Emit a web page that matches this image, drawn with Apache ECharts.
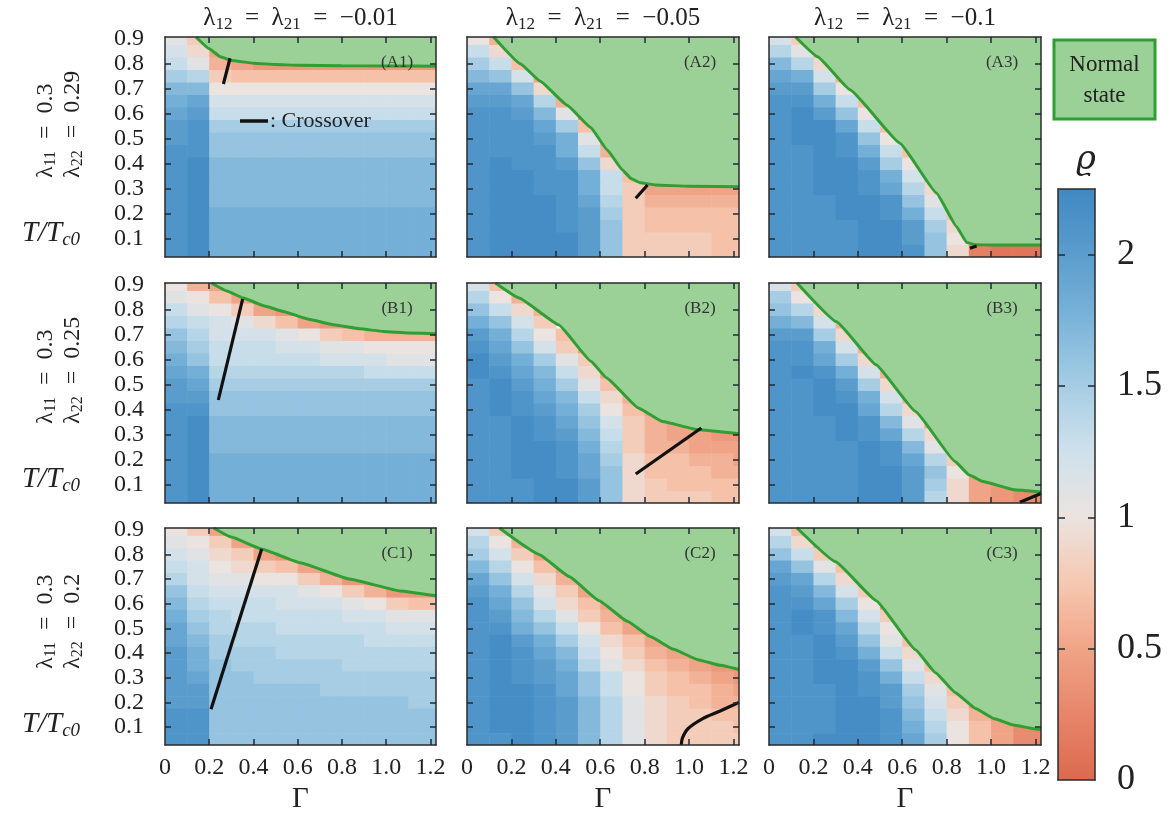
<!DOCTYPE html>
<html>
<head>
<meta charset="utf-8">
<script src="https://cdn.jsdelivr.net/npm/echarts@6.0.0/dist/echarts.min.js"></script>
<style>
html,body{margin:0;padding:0;background:#ffffff;}
#chart{width:1171px;height:815px;}
</style>
</head>
<body>
<div id="chart"></div>
<script>
const _ = null;
// heat-map cell centres (Gamma columns, T/Tc0 rows from top to bottom)
const gammaCenters = [0.05,0.15,0.25,0.35,0.45,0.55,0.65,0.75,0.85,0.95,1.05,1.15,1.25];
const tCenters = [0.90,0.85,0.80,0.75,0.70,0.65,0.60,0.55,0.50,0.45,0.40,0.35,0.30,0.25,0.20,0.15,0.10,0.05];
const xTickLabels = [0,0.2,0.4,0.6,0.8,1.0,1.2];
const xTicks = [0.2,0.4,0.6,0.8,1.0,1.2];
const yTickLabels = [0.1,0.2,0.3,0.4,0.5,0.6,0.7,0.8,0.9];
const yTicks = [0.1,0.2,0.3,0.4,0.5,0.6,0.7,0.8];
const cbarTickLabels = [0,0.5,1,1.5,2];
const cbarTicks = [0.5,1,1.5,2];
const colTitles = ['\u22120.01','\u22120.05','\u22120.1'];
const rowLambda11 = ['0.3','0.3','0.3'];
const rowLambda22 = ['0.29','0.25','0.2'];
const panelNames = ['A1','A2','A3','B1','B2','B3','C1','C2','C3'];

// rho values x10 (null = normal state)
const heatA1 = [
[11,8,_,_,_,_,_,_,_,_,_,_,_],
[12,9,5,_,_,_,_,_,_,_,_,_,_],
[13,11,6,5,4,4,4,4,4,4,4,4,4],
[15,14,8,7,7,7,7,7,7,7,7,7,7],
[17,17,10,10,10,10,10,10,10,10,10,10,10],
[18,19,12,12,12,12,12,12,12,12,12,12,12],
[19,20,13,13,13,13,13,13,13,13,13,13,13],
[20,21,15,15,15,15,15,15,15,15,15,15,15],
[20,21,16,16,16,16,16,16,16,16,16,16,16],
[21,21,16,16,16,16,16,16,16,16,16,16,16],
[21,22,17,17,17,17,17,17,17,17,17,17,17],
[21,22,17,17,17,17,17,17,17,17,17,17,17],
[21,22,17,17,17,17,17,17,17,17,17,17,17],
[21,22,17,17,17,17,17,17,17,17,17,17,17],
[21,22,18,18,18,18,18,18,18,18,18,18,18],
[21,22,18,18,18,18,18,18,18,18,18,18,18],
[21,22,18,18,18,18,18,18,18,18,18,18,18],
[21,22,18,18,18,18,18,18,18,18,18,18,18]];
const heatA2 = [
[10,6,_,_,_,_,_,_,_,_,_,_,_],
[13,9,5,_,_,_,_,_,_,_,_,_,_],
[15,13,7,_,_,_,_,_,_,_,_,_,_],
[17,16,12,5,_,_,_,_,_,_,_,_,_],
[19,19,16,9,_,_,_,_,_,_,_,_,_],
[20,20,19,14,6,_,_,_,_,_,_,_,_],
[21,21,20,17,11,4,_,_,_,_,_,_,_],
[21,21,21,19,15,7,_,_,_,_,_,_,_],
[21,21,21,20,18,11,4,_,_,_,_,_,_],
[21,21,21,21,18,13,6,_,_,_,_,_,_],
[21,22,21,21,20,16,9,_,_,_,_,_,_],
[21,22,22,21,21,18,13,7,_,_,_,_,_],
[21,22,22,21,21,18,13,8,5,5,5,5,5],
[21,22,22,22,21,19,14,8,6,6,6,6,6],
[21,22,22,22,21,20,15,8,7,7,7,7,7],
[21,22,22,22,21,20,16,8,7,7,7,7,7],
[21,22,22,22,22,20,16,8,8,8,8,7,7],
[21,22,22,22,22,20,16,8,8,8,8,7,7]];
const heatA3 = [
[12,8,_,_,_,_,_,_,_,_,_,_,_],
[14,11,5,_,_,_,_,_,_,_,_,_,_],
[17,14,9,_,_,_,_,_,_,_,_,_,_],
[19,18,12,6,_,_,_,_,_,_,_,_,_],
[20,20,15,10,_,_,_,_,_,_,_,_,_],
[21,21,18,13,7,_,_,_,_,_,_,_,_],
[21,22,20,16,10,_,_,_,_,_,_,_,_],
[21,22,22,19,13,7,_,_,_,_,_,_,_],
[21,22,22,21,16,10,_,_,_,_,_,_,_],
[21,21,22,21,18,13,7,_,_,_,_,_,_],
[21,21,22,22,20,15,10,_,_,_,_,_,_],
[21,21,22,22,21,18,12,6,_,_,_,_,_],
[21,21,22,22,21,19,14,9,_,_,_,_,_],
[21,21,21,22,22,21,16,11,_,_,_,_,_],
[21,21,21,22,22,21,18,13,7,_,_,_,_],
[21,21,21,21,22,22,20,15,9,_,_,_,_],
[21,21,21,21,22,22,20,16,10,5,_,_,_],
[21,21,21,21,22,22,21,16,9,2,1,1,1]];
const heatB1 = [
[10,6,5,_,_,_,_,_,_,_,_,_,_],
[11,10,7,5,4,_,_,_,_,_,_,_,_],
[13,11,10,8,5,4,_,_,_,_,_,_,_],
[14,13,12,11,9,7,5,4,4,_,_,_,_],
[16,14,12,12,12,11,10,8,7,6,6,6,6],
[17,15,13,13,13,12,12,11,11,10,10,10,10],
[18,16,13,13,13,13,13,12,12,12,11,11,11],
[19,18,14,14,14,14,14,14,14,13,13,13,13],
[20,19,15,15,15,15,15,15,15,15,15,15,15],
[20,20,16,16,16,16,16,16,16,16,16,16,16],
[21,21,16,16,16,16,16,16,16,16,16,16,16],
[21,22,17,17,17,17,17,17,17,17,17,17,17],
[21,22,17,17,17,17,17,17,17,17,17,17,17],
[21,22,17,17,17,17,17,17,17,17,17,17,17],
[21,22,18,18,18,18,18,18,18,18,18,18,18],
[21,22,18,18,18,18,18,18,18,18,18,18,18],
[21,22,18,18,18,18,18,18,18,18,18,18,18],
[21,22,18,18,18,18,18,18,18,18,18,18,18]];
const heatB2 = [
[12,7,_,_,_,_,_,_,_,_,_,_,_],
[14,10,6,_,_,_,_,_,_,_,_,_,_],
[16,13,9,6,_,_,_,_,_,_,_,_,_],
[18,16,12,8,_,_,_,_,_,_,_,_,_],
[20,18,14,10,7,_,_,_,_,_,_,_,_],
[21,19,16,12,8,5,_,_,_,_,_,_,_],
[22,20,18,15,11,8,_,_,_,_,_,_,_],
[22,21,19,17,13,9,5,_,_,_,_,_,_],
[21,22,20,18,15,11,7,_,_,_,_,_,_],
[21,22,21,19,17,13,9,6,_,_,_,_,_],
[21,22,21,20,18,15,10,7,5,_,_,_,_],
[21,21,22,21,19,16,12,8,6,5,_,_,_],
[21,21,22,21,20,17,13,8,6,5,5,4,4],
[21,21,22,22,21,18,14,8,6,6,5,5,5],
[21,21,22,22,21,19,15,9,7,7,6,6,5],
[21,21,22,22,21,19,16,9,7,7,7,6,6],
[21,21,21,22,22,20,16,9,8,7,7,7,7],
[21,21,21,22,22,20,16,9,8,8,8,7,7]];
const heatB3 = [
[12,8,_,_,_,_,_,_,_,_,_,_,_],
[15,10,5,_,_,_,_,_,_,_,_,_,_],
[16,14,9,_,_,_,_,_,_,_,_,_,_],
[18,17,12,6,_,_,_,_,_,_,_,_,_],
[20,20,15,9,_,_,_,_,_,_,_,_,_],
[21,21,18,12,6,_,_,_,_,_,_,_,_],
[21,21,19,15,9,_,_,_,_,_,_,_,_],
[21,22,21,18,12,6,_,_,_,_,_,_,_],
[21,21,22,20,15,9,_,_,_,_,_,_,_],
[21,21,22,21,18,12,6,_,_,_,_,_,_],
[21,21,22,22,19,14,9,_,_,_,_,_,_],
[21,21,21,22,21,17,11,5,_,_,_,_,_],
[21,21,21,22,21,19,14,9,_,_,_,_,_],
[21,21,21,21,22,21,17,11,5,_,_,_,_],
[21,21,21,21,22,21,19,14,8,_,_,_,_],
[21,21,21,21,22,22,20,16,10,5,_,_,_],
[21,21,21,21,22,22,20,15,9,5,4,_,_],
[21,21,21,21,22,22,20,14,9,5,4,3,3]];
const heatC1 = [
[10,8,5,_,_,_,_,_,_,_,_,_,_],
[11,10,8,5,4,_,_,_,_,_,_,_,_],
[12,11,9,8,5,4,_,_,_,_,_,_,_],
[13,12,10,9,8,7,5,4,_,_,_,_,_],
[14,12,11,11,10,10,8,6,4,4,_,_,_],
[16,13,12,12,12,12,11,10,8,6,4,4,4],
[17,14,13,13,13,12,12,12,11,10,8,7,7],
[18,15,14,13,13,13,13,13,12,12,11,11,11],
[19,16,14,14,14,13,13,13,13,13,12,12,12],
[19,17,15,14,14,14,14,14,14,13,13,13,13],
[20,18,15,15,15,14,14,14,14,14,14,14,14],
[20,18,16,15,15,15,15,15,14,14,14,14,14],
[20,19,16,16,15,15,15,15,15,15,15,15,15],
[20,20,16,16,16,16,16,15,15,15,15,15,15],
[20,20,16,16,16,16,16,16,16,16,16,15,15],
[21,21,16,16,16,16,16,16,16,16,16,16,16],
[21,21,16,16,16,16,16,16,16,16,16,16,16],
[21,21,16,16,16,16,16,16,16,16,16,16,16]];
const heatC2 = [
[12,8,_,_,_,_,_,_,_,_,_,_,_],
[14,10,6,_,_,_,_,_,_,_,_,_,_],
[15,12,8,5,_,_,_,_,_,_,_,_,_],
[17,14,10,7,5,_,_,_,_,_,_,_,_],
[19,16,12,9,6,4,_,_,_,_,_,_,_],
[20,18,14,11,8,5,_,_,_,_,_,_,_],
[21,19,16,12,9,7,5,_,_,_,_,_,_],
[21,20,17,14,11,8,6,4,_,_,_,_,_],
[21,21,18,16,13,10,7,5,4,_,_,_,_],
[21,22,20,18,15,12,9,7,5,4,_,_,_],
[21,22,21,19,17,13,10,8,6,5,4,_,_],
[21,22,21,20,18,14,11,9,7,6,5,4,4],
[21,22,21,20,19,16,13,10,8,7,6,5,4],
[21,22,22,21,19,16,13,10,8,7,7,6,5],
[21,22,22,21,20,17,14,11,9,8,7,6,6],
[21,22,22,21,20,17,14,11,9,8,8,7,7],
[21,22,22,21,20,17,14,11,9,8,8,8,7],
[21,21,22,21,20,17,14,11,9,8,8,8,8]];
const heatC3 = [
[12,7,_,_,_,_,_,_,_,_,_,_,_],
[14,9,5,_,_,_,_,_,_,_,_,_,_],
[16,13,8,_,_,_,_,_,_,_,_,_,_],
[19,16,11,7,_,_,_,_,_,_,_,_,_],
[20,19,14,9,_,_,_,_,_,_,_,_,_],
[21,20,17,12,8,_,_,_,_,_,_,_,_],
[21,21,19,15,10,5,_,_,_,_,_,_,_],
[21,22,21,17,12,8,_,_,_,_,_,_,_],
[21,22,21,19,14,10,_,_,_,_,_,_,_],
[21,21,22,20,16,11,7,_,_,_,_,_,_],
[21,21,22,21,18,13,9,_,_,_,_,_,_],
[21,21,22,22,20,16,11,7,_,_,_,_,_],
[21,21,22,22,21,18,13,9,_,_,_,_,_],
[21,21,21,22,21,20,15,11,7,_,_,_,_],
[21,21,21,22,22,20,16,12,8,4,_,_,_],
[21,21,21,22,22,21,17,13,9,6,4,_,_],
[21,21,21,22,22,21,18,14,10,7,5,3,3],
[21,21,22,22,22,21,19,15,10,7,5,3,3]];

// normal-state boundary (Gamma, T/Tc0)
const bndA1G = [0.14,0.2,0.25,0.3,0.4,0.5,0.6,0.8,1.0,1.225];
const bndA1T = [0.907,0.86,0.828,0.813,0.802,0.797,0.794,0.792,0.791,0.79];
const bndA2G = [0.12,0.24,0.33,0.45,0.557,0.632,0.70,0.74,0.78,0.85,1.0,1.225];
const bndA2T = [0.907,0.80,0.73,0.635,0.545,0.455,0.375,0.34,0.324,0.315,0.31,0.308];
const bndA3G = [0.12,0.219,0.365,0.59,0.755,0.845,0.89,0.93,1.0,1.225];
const bndA3T = [0.907,0.828,0.696,0.482,0.282,0.148,0.085,0.076,0.075,0.075];
const bndB1G = [0.21,0.28,0.354,0.45,0.535,0.65,0.762,0.88,0.988,1.1,1.225];
const bndB1T = [0.907,0.875,0.847,0.815,0.793,0.762,0.74,0.724,0.713,0.707,0.704];
const bndB2G = [0.128,0.235,0.414,0.558,0.629,0.772,0.88,1.04,1.225];
const bndB2T = [0.907,0.847,0.739,0.594,0.527,0.407,0.353,0.32,0.304];
const bndB3G = [0.126,0.304,0.482,0.66,0.838,0.9,0.963,1.105,1.225];
const bndB3T = [0.907,0.752,0.58,0.393,0.193,0.14,0.113,0.08,0.071];
const bndC1G = [0.22,0.3,0.437,0.611,0.837,1.063,1.225];
const bndC1T = [0.907,0.87,0.822,0.766,0.699,0.652,0.632];
const bndC2G = [0.146,0.325,0.46,0.594,0.72,0.826,0.93,1.04,1.14,1.225];
const bndC2T = [0.907,0.8,0.71,0.613,0.53,0.467,0.415,0.373,0.35,0.333];
const bndC3G = [0.126,0.3,0.482,0.66,0.75,0.838,0.93,1.016,1.1,1.194,1.225];
const bndC3T = [0.907,0.77,0.613,0.413,0.32,0.24,0.175,0.133,0.108,0.093,0.09];

// crossover lines
const crsA1G = [0.264,0.294], crsA1T = [0.719,0.822];
const crsA2G = [0.76,0.813], crsA2T = [0.262,0.315];
const crsA3G = [0.905,0.935], crsA3T = [0.062,0.071];
const crsB1G = [0.241,0.351], crsB1T = [0.439,0.843];
const crsB2G = [0.76,1.055], crsB2T = [0.143,0.327];
const crsB3G = [1.13,1.225], crsB3T = [0.03,0.065];
const crsC1G = [0.208,0.437], crsC1T = [0.172,0.822];
const crsC2G = [0.965,0.97,0.995,1.06,1.14,1.225], crsC2T = [0.027,0.055,0.093,0.133,0.165,0.2];
const crsC3G = [], crsC3T = [];

const heats = [heatA1,heatA2,heatA3,heatB1,heatB2,heatB3,heatC1,heatC2,heatC3];
const bndG = [bndA1G,bndA2G,bndA3G,bndB1G,bndB2G,bndB3G,bndC1G,bndC2G,bndC3G];
const bndT = [bndA1T,bndA2T,bndA3T,bndB1T,bndB2T,bndB3T,bndC1T,bndC2T,bndC3T];
const crsG = [crsA1G,crsA2G,crsA3G,crsB1G,crsB2G,crsB3G,crsC1G,crsC2G,crsC3G];
const crsT = [crsA1T,crsA2T,crsA3T,crsB1T,crsB2T,crsB3T,crsC1T,crsC2T,crsC3T];

// ---- layout / style ----
const SERIF = 'Liberation Serif';
const lefts = [165, 467, 769], widths = [271, 272, 272];
const tops = [37, 283, 528], H = 220;
const XMAX = 1.225, YMIN = 0.027, YMAX = 0.907;
const HALF_G = 0.05, HALF_T = 0.025;
const cmap = ['#dc6a4f','#e7856a','#f0a487','#f6c8b1','#ebe3df','#cfe1ec','#a6cde4','#7bb4d9','#5a9dcd','#4189c3'];
const GREEN_FILL = '#9bd097', GREEN_LINE = '#2f9e33';
const INK = '#222222';
const tickStyle = {color:'#1f2a36', width:1.5};
const axisLineStyle = {color:'#2a2a2a', width:1.5};

const grids = [], xAxes = [], yAxes = [], series = [], heatIdx = [];
for (let p = 0; p < 9; p++) {
  const r = Math.floor(p / 3), c = p % 3;
  grids.push({left: lefts[c], top: tops[r], width: widths[c], height: H, show: false});
  const common = {gridIndex: p, type: 'value', z: 5, splitLine: {show: false},
    axisLine: {show: true, onZero: false, lineStyle: axisLineStyle}};
  xAxes.push(Object.assign({}, common, {min: 0, max: XMAX, position: 'bottom',
    axisTick: {show: true, inside: true, length: 6, customValues: xTicks, lineStyle: tickStyle},
    axisLabel: {show: r === 2, customValues: xTickLabels, margin: 11,
      formatter: v => (v === 0 ? '0' : v.toFixed(1)), fontFamily: SERIF, fontSize: 24, color: INK},
    name: r === 2 ? '\u0393' : '', nameLocation: 'middle', nameGap: 40,
    nameTextStyle: {fontFamily: SERIF, fontSize: 29, color: INK}}));
  xAxes.push(Object.assign({}, common, {min: 0, max: XMAX, position: 'top',
    axisTick: {show: true, inside: true, length: 6, customValues: xTicks, lineStyle: tickStyle},
    axisLabel: {show: false}}));
  yAxes.push(Object.assign({}, common, {min: YMIN, max: YMAX, position: 'left',
    axisTick: {show: true, inside: true, length: 6, customValues: yTicks, lineStyle: tickStyle},
    axisLabel: {show: c === 0, customValues: yTickLabels, margin: 21,
      formatter: v => v.toFixed(1), fontFamily: SERIF, fontSize: 24, color: INK}}));
  yAxes.push(Object.assign({}, common, {min: YMIN, max: YMAX, position: 'right',
    axisTick: {show: true, inside: true, length: 6, customValues: yTicks, lineStyle: tickStyle},
    axisLabel: {show: false}}));

  const data = [];
  heats[p].forEach((row, k) => row.forEach((v, j) => {
    if (v !== null) data.push([gammaCenters[j], tCenters[k], v / 10]);
  }));
  heatIdx.push(series.length);
  series.push({type: 'custom', xAxisIndex: 2 * p, yAxisIndex: 2 * p, clip: true, z: 1,
    dimensions: ['g', 't', 'rho'], encode: {x: 0, y: 1},
    renderItem: (params, api) => {
      const g = api.value(0), t = api.value(1);
      const a = api.coord([g - HALF_G, t + HALF_T]);
      const b = api.coord([g + HALF_G, t - HALF_T]);
      return {type: 'rect', shape: {x: a[0], y: a[1], width: b[0] - a[0] + 0.6, height: b[1] - a[1] + 0.6},
        style: {fill: api.visual('color')}};
    },
    data: data});
  series.push({type: 'line', xAxisIndex: 2 * p, yAxisIndex: 2 * p, z: 3, clip: true,
    smooth: 0.1, smoothMonotone: 'x', showSymbol: false, symbol: 'none',
    lineStyle: {color: GREEN_LINE, width: 3},
    areaStyle: {color: GREEN_FILL, opacity: 1, origin: 'end'},
    data: bndG[p].map((g, i) => [g, bndT[p][i]])});
  series.push({type: 'line', xAxisIndex: 2 * p, yAxisIndex: 2 * p, z: 4, clip: true,
    smooth: 0.3, showSymbol: false, symbol: 'none',
    lineStyle: {color: '#111111', width: 3.2},
    data: crsG[p].map((g, i) => [g, crsT[p][i]])});
}
// colour-bar frame / axis
const CB = {left: 1058, top: 189, width: 37, height: 591};
grids.push({left: CB.left, top: CB.top, width: CB.width, height: CB.height, show: false});
xAxes.push({gridIndex: 9, type: 'value', min: 0, max: 1, position: 'bottom', z: 5,
  axisLine: {show: true, onZero: false, lineStyle: axisLineStyle}, axisTick: {show: false}, axisLabel: {show: false}, splitLine: {show: false}});
xAxes.push({gridIndex: 9, type: 'value', min: 0, max: 1, position: 'top', z: 5,
  axisLine: {show: true, onZero: false, lineStyle: axisLineStyle}, axisTick: {show: false}, axisLabel: {show: false}, splitLine: {show: false}});
yAxes.push({gridIndex: 9, type: 'value', min: 0, max: 2.25, position: 'left', z: 5,
  axisLine: {show: true, onZero: false, lineStyle: axisLineStyle},
  axisTick: {show: true, inside: true, length: 7, customValues: cbarTicks, lineStyle: tickStyle},
  axisLabel: {show: false}, splitLine: {show: false}});
yAxes.push({gridIndex: 9, type: 'value', min: 0, max: 2.25, position: 'right', z: 5,
  axisLine: {show: true, onZero: false, lineStyle: axisLineStyle},
  axisTick: {show: true, inside: true, length: 7, customValues: cbarTicks, lineStyle: tickStyle},
  axisLabel: {show: true, customValues: cbarTickLabels, margin: 22, formatter: v => String(v),
    fontFamily: SERIF, fontSize: 36, color: INK}, splitLine: {show: false}});

// ---- texts ----
const graphics = [];
const subRich = (n, s, lh) => ({
  n: {fontFamily: SERIF, fontSize: n, lineHeight: lh, fill: INK},
  s: {fontFamily: SERIF, fontSize: s, lineHeight: lh, verticalAlign: 'bottom', fill: INK}});
for (let c = 0; c < 3; c++) {
  graphics.push({type: 'text', x: lefts[c] + widths[c] / 2, y: 18, style: {
    text: '{n|\u03bb}{s|12}{n|  =  \u03bb}{s|21}{n|  =  ' + colTitles[c] + '}',
    rich: subRich(25, 17, 30), align: 'center', verticalAlign: 'middle'}});
}
for (let r = 0; r < 3; r++) {
  graphics.push({type: 'text', x: 59, y: tops[r] + 141, rotation: Math.PI / 2, style: {
    text: '{n|\u03bb}{s|11}{n|  =  ' + rowLambda11[r] + '}\n{n|\u03bb}{s|22}{n|  =  ' + rowLambda22[r] + '}',
    rich: subRich(24, 16, 27), align: 'left', verticalAlign: 'middle'}});
  graphics.push({type: 'text', x: 51, y: tops[r] + 196, style: {
    text: '{i|T/T}{s|c0}',
    rich: {i: {fontFamily: SERIF, fontStyle: 'italic', fontSize: 29, lineHeight: 32, fill: INK},
           s: {fontFamily: SERIF, fontStyle: 'italic', fontSize: 19, lineHeight: 32, verticalAlign: 'bottom', fill: INK}},
    align: 'center', verticalAlign: 'middle'}});
}
for (let p = 0; p < 9; p++) {
  const r = Math.floor(p / 3), c = p % 3;
  graphics.push({type: 'text', x: lefts[c] + widths[c] - 39, y: tops[r] + 26, z: 20, style: {
    text: '(' + panelNames[p] + ')', fontFamily: SERIF, fontSize: 17, fill: '#333333',
    align: 'center', verticalAlign: 'middle'}});
}
// crossover legend in A1
graphics.push({type: 'line', z: 20, shape: {x1: 240, y1: 121, x2: 268, y2: 121},
  style: {stroke: '#111111', lineWidth: 3.5}});
graphics.push({type: 'text', x: 270, y: 121, z: 20, style: {text: ': Crossover', fontFamily: SERIF, fontSize: 22,
  fill: INK, align: 'left', verticalAlign: 'middle'}});
// normal state box
graphics.push({type: 'rect', z: 20, shape: {x: 1054, y: 40, width: 101, height: 79},
  style: {fill: GREEN_FILL, stroke: GREEN_LINE, lineWidth: 3}});
graphics.push({type: 'text', x: 1104.5, y: 80, z: 21, style: {text: 'Normal\nstate', fontFamily: SERIF, fontSize: 23,
  lineHeight: 31, fill: INK, align: 'center', verticalAlign: 'middle'}});
// colour bar symbol
graphics.push({type: 'text', x: 1086, y: 160, z: 20, style: {text: '\u03f1', fontFamily: 'DejaVu Serif', fontStyle: 'italic',
  fontSize: 34, fill: INK, align: 'center', verticalAlign: 'middle'}});

const chart = echarts.init(document.getElementById('chart'), null, {renderer: 'canvas'});
chart.setOption({
  backgroundColor: '#ffffff',
  animation: false,
  grid: grids,
  xAxis: xAxes,
  yAxis: yAxes,
  visualMap: {type: 'continuous', min: 0, max: 2.25, dimension: 2, seriesIndex: heatIdx,
    inRange: {color: cmap}, show: true, calculable: false, orient: 'vertical',
    left: CB.left, top: CB.top, itemWidth: CB.width, itemHeight: CB.height, padding: 0,
    hoverLink: false, text: null},
  graphic: graphics,
  series: series
});
</script>
</body>
</html>
